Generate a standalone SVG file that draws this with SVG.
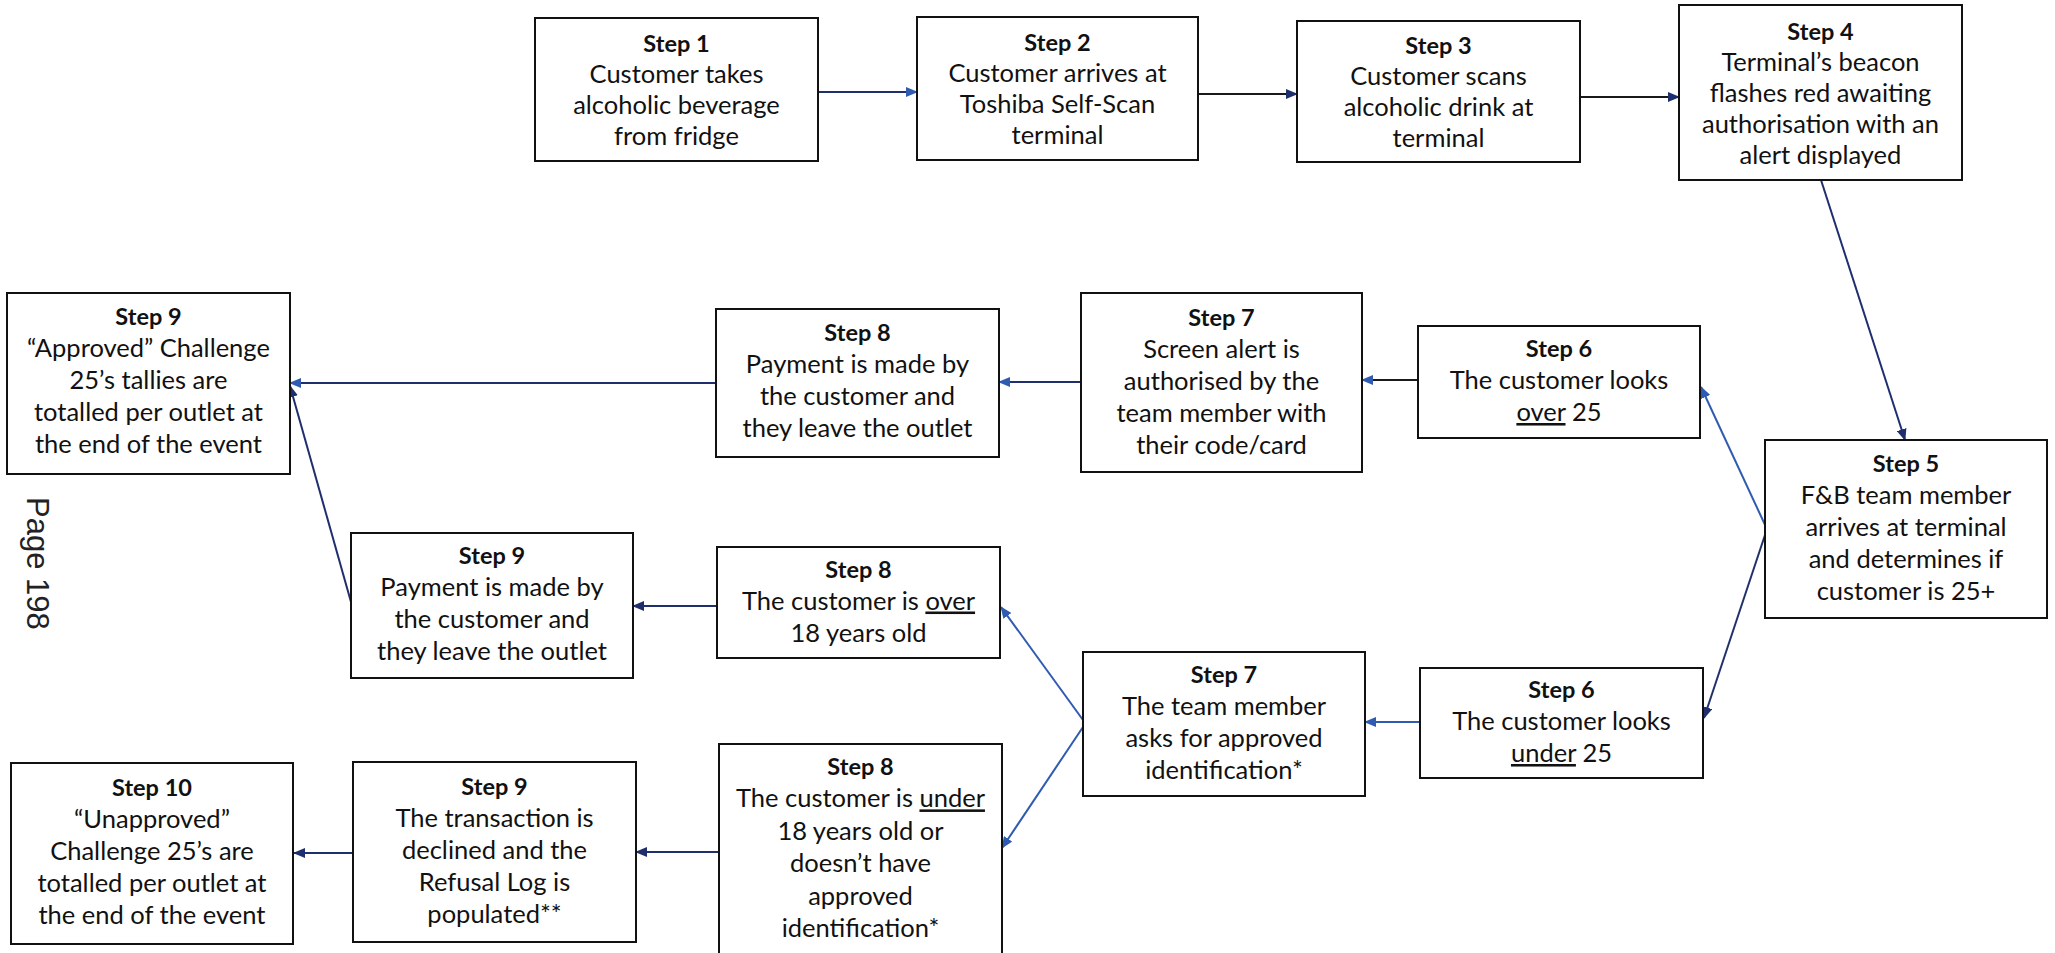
<svg xmlns="http://www.w3.org/2000/svg" width="2055" height="953" viewBox="0 0 2055 953">
<style>
.box{fill:#fff;stroke:#111;stroke-width:2}
.t{font-family:Lato,"Liberation Sans",sans-serif;font-size:25.5px;fill:#111;text-anchor:middle}
.h{font-weight:bold;font-size:23.5px}
.u{text-decoration:underline}
.cn{fill:none;stroke:#1f2f6e;stroke-width:2}
.cb{fill:none;stroke:#2f5bb0;stroke-width:2}
.ck{fill:none;stroke:#1a1a1a;stroke-width:2}
.pg{font-family:"Liberation Sans",Arial,sans-serif;font-size:31px;fill:#222}
</style>
<defs>
<marker id="an" viewBox="0 0 12 10" refX="11" refY="5" markerWidth="12" markerHeight="10" markerUnits="userSpaceOnUse" orient="auto"><path d="M0,0 L12,5 L0,10 z" fill="#1f2f6e"/></marker>
<marker id="ab" viewBox="0 0 12 10" refX="11" refY="5" markerWidth="12" markerHeight="10" markerUnits="userSpaceOnUse" orient="auto"><path d="M0,0 L12,5 L0,10 z" fill="#2f5bb0"/></marker>
</defs>
<rect width="2055" height="953" fill="#fff"/>

<g id="connectors">
<line class="cn" x1="818" y1="92" x2="917" y2="92" marker-end="url(#ab)"/>
<line class="ck" x1="1198" y1="94" x2="1297" y2="94" marker-end="url(#an)"/>
<line class="ck" x1="1580" y1="97" x2="1679" y2="97" marker-end="url(#an)"/>
<line class="cn" x1="1821" y1="180" x2="1905" y2="440" marker-end="url(#an)"/>
<line class="cb" x1="1766" y1="527" x2="1701" y2="387" marker-end="url(#ab)"/>
<line class="cn" x1="1766" y1="532" x2="1704" y2="718" marker-end="url(#an)"/>
<line class="ck" x1="1418" y1="380" x2="1362" y2="380" marker-end="url(#ab)"/>
<line class="cn" x1="1081" y1="382" x2="999" y2="382" marker-end="url(#ab)"/>
<line class="cn" x1="716" y1="383" x2="290" y2="383" marker-end="url(#ab)"/>
<line class="cn" x1="351" y1="602" x2="290" y2="386" marker-end="url(#an)"/>
<line class="cn" x1="717" y1="606" x2="633" y2="606" marker-end="url(#an)"/>
<line class="cb" x1="1083" y1="720" x2="1001" y2="607" marker-end="url(#ab)"/>
<line class="cb" x1="1083" y1="727" x2="1002" y2="848" marker-end="url(#ab)"/>
<line class="cb" x1="1420" y1="722" x2="1365" y2="722" marker-end="url(#ab)"/>
<line class="cn" x1="719" y1="852" x2="636" y2="852" marker-end="url(#an)"/>
<line class="cn" x1="353" y1="853" x2="294" y2="853" marker-end="url(#an)"/>
</g>

<g id="step1">
<rect class="box" x="535" y="18" width="283" height="143"/>
<text class="t" x="676.5"><tspan class="h" x="676.5" y="51.5">Step 1</tspan><tspan x="676.5" y="82.5">Customer takes</tspan><tspan x="676.5" y="113.5">alcoholic beverage</tspan><tspan x="676.5" y="144.5">from fridge</tspan></text>
</g>
<g id="step2">
<rect class="box" x="917" y="17" width="281" height="143"/>
<text class="t"><tspan class="h" x="1057.5" y="50.5">Step 2</tspan><tspan x="1057.5" y="81.5">Customer arrives at</tspan><tspan x="1057.5" y="112.5">Toshiba Self-Scan</tspan><tspan x="1057.5" y="143.5">terminal</tspan></text>
</g>
<g id="step3">
<rect class="box" x="1297" y="21" width="283" height="141"/>
<text class="t"><tspan class="h" x="1438.5" y="53.5">Step 3</tspan><tspan x="1438.5" y="84.5">Customer scans</tspan><tspan x="1438.5" y="115.5">alcoholic drink at</tspan><tspan x="1438.5" y="146.5">terminal</tspan></text>
</g>
<g id="step4">
<rect class="box" x="1679" y="5" width="283" height="175"/>
<text class="t"><tspan class="h" x="1820.5" y="39.5">Step 4</tspan><tspan x="1820.5" y="70.5">Terminal’s beacon</tspan><tspan x="1820.5" y="101.5">flashes red awaiting</tspan><tspan x="1820.5" y="132.5">authorisation with an</tspan><tspan x="1820.5" y="163.5">alert displayed</tspan></text>
</g>
<g id="step5">
<rect class="box" x="1765" y="440" width="282" height="178"/>
<text class="t"><tspan class="h" x="1906" y="472">Step 5</tspan><tspan x="1906" y="504">F&amp;B team member</tspan><tspan x="1906" y="536">arrives at terminal</tspan><tspan x="1906" y="568">and determines if</tspan><tspan x="1906" y="600">customer is 25+</tspan></text>
</g>
<g id="step6-over">
<rect class="box" x="1418" y="326" width="282" height="112"/>
<text class="t"><tspan class="h" x="1559" y="357">Step 6</tspan><tspan x="1559" y="389">The customer looks</tspan><tspan x="1559" y="421"><tspan class="u">over</tspan> 25</tspan></text>
</g>
<g id="step7-auth">
<rect class="box" x="1081" y="293" width="281" height="179"/>
<text class="t"><tspan class="h" x="1221.5" y="325.5">Step 7</tspan><tspan x="1221.5" y="357.5">Screen alert is</tspan><tspan x="1221.5" y="389.5">authorised by the</tspan><tspan x="1221.5" y="421.5">team member with</tspan><tspan x="1221.5" y="453.5">their code/card</tspan></text>
</g>
<g id="step8-payment">
<rect class="box" x="716" y="309" width="283" height="148"/>
<text class="t"><tspan class="h" x="857.5" y="341">Step 8</tspan><tspan x="857.5" y="373">Payment is made by</tspan><tspan x="857.5" y="405">the customer and</tspan><tspan x="857.5" y="437">they leave the outlet</tspan></text>
</g>
<g id="step9-approved">
<rect class="box" x="7" y="293" width="283" height="181"/>
<text class="t"><tspan class="h" x="148.5" y="325">Step 9</tspan><tspan x="148.5" y="357">“Approved” Challenge</tspan><tspan x="148.5" y="389">25’s tallies are</tspan><tspan x="148.5" y="421">totalled per outlet at</tspan><tspan x="148.5" y="453">the end of the event</tspan></text>
</g>
<g id="step9-payment">
<rect class="box" x="351" y="533" width="282" height="145"/>
<text class="t"><tspan class="h" x="492" y="564">Step 9</tspan><tspan x="492" y="596">Payment is made by</tspan><tspan x="492" y="628">the customer and</tspan><tspan x="492" y="660">they leave the outlet</tspan></text>
</g>
<g id="step8-over18">
<rect class="box" x="717" y="547" width="283" height="111"/>
<text class="t"><tspan class="h" x="858.5" y="577.5">Step 8</tspan><tspan x="858.5" y="609.5">The customer is <tspan class="u">over</tspan></tspan><tspan x="858.5" y="641.5">18 years old</tspan></text>
</g>
<g id="step7-asks">
<rect class="box" x="1083" y="652" width="282" height="144"/>
<text class="t"><tspan class="h" x="1224" y="683">Step 7</tspan><tspan x="1224" y="715">The team member</tspan><tspan x="1224" y="747">asks for approved</tspan><tspan x="1224" y="779">identification*</tspan></text>
</g>
<g id="step6-under">
<rect class="box" x="1420" y="668" width="283" height="110"/>
<text class="t"><tspan class="h" x="1561.5" y="698">Step 6</tspan><tspan x="1561.5" y="730">The customer looks</tspan><tspan x="1561.5" y="762"><tspan class="u">under</tspan> 25</tspan></text>
</g>
<g id="step8-under18">
<rect class="box" x="719" y="744" width="283" height="225"/>
<text class="t"><tspan class="h" x="860.5" y="775">Step 8</tspan><tspan x="860.5" y="807.4">The customer is <tspan class="u">under</tspan></tspan><tspan x="860.5" y="839.8">18 years old or</tspan><tspan x="860.5" y="872.2">doesn’t have</tspan><tspan x="860.5" y="904.6">approved</tspan><tspan x="860.5" y="937">identification*</tspan></text>
</g>
<g id="step9-declined">
<rect class="box" x="353" y="762" width="283" height="180"/>
<text class="t"><tspan class="h" x="494.5" y="795">Step 9</tspan><tspan x="494.5" y="827">The transaction is</tspan><tspan x="494.5" y="859">declined and the</tspan><tspan x="494.5" y="891">Refusal Log is</tspan><tspan x="494.5" y="923">populated**</tspan></text>
</g>
<g id="step10">
<rect class="box" x="11" y="763" width="282" height="181"/>
<text class="t"><tspan class="h" x="152" y="796">Step 10</tspan><tspan x="152" y="828">“Unapproved”</tspan><tspan x="152" y="860">Challenge 25’s are</tspan><tspan x="152" y="892">totalled per outlet at</tspan><tspan x="152" y="924">the end of the event</tspan></text>
</g>
<g id="page-label">
<text class="pg" transform="translate(27,497) rotate(90)">Page 198</text>
</g>
</svg>
